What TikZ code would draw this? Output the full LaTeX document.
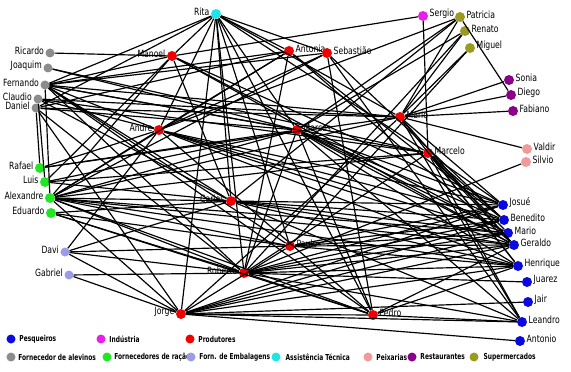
\documentclass[tikz,border=0pt]{standalone}
\usepackage{fontspec}
\usepackage{tikz}
\usetikzlibrary{positioning}
\newfontfamily\lblfont{DejaVu Sans Condensed}[FakeStretch=0.86]
\newfontfamily\legfont{DejaVu Sans Condensed}[FakeStretch=0.8]
\definecolor{prodred}{HTML}{F00000}
\definecolor{pesqblue}{HTML}{0A0AE0}
\definecolor{indmag}{HTML}{E620E6}
\definecolor{alevgray}{HTML}{8C8C8C}
\definecolor{racaogreen}{HTML}{22E622}
\definecolor{emblav}{HTML}{9C9CE6}
\definecolor{teccyan}{HTML}{1EE6E6}
\definecolor{peixpink}{HTML}{F09A9A}
\definecolor{restpurple}{HTML}{8A008A}
\definecolor{superolive}{HTML}{9A9A1E}
\tikzset{
    dotnode/.style = {circle, inner sep=0pt, minimum size=0.3cm, draw=none},
    prod_node/.style = {dotnode, fill=prodred},
    pesq_node/.style = {dotnode, fill=pesqblue},
    ind_node/.style = {dotnode, fill=indmag},
    alev_node/.style = {dotnode, fill=alevgray, minimum size=0.27cm},
    racao_node/.style = {dotnode, fill=racaogreen},
    emb_node/.style = {dotnode, fill=emblav, minimum size=0.27cm},
    tec_node/.style = {dotnode, fill=teccyan},
    peix_node/.style = {dotnode, fill=peixpink},
    rest_node/.style = {dotnode, fill=restpurple},
    super_node/.style = {dotnode, fill=superolive},
    lbl/.style = {font=\lblfont\fontsize{8.5}{9}\selectfont, inner sep=1pt, yshift=2pt},
    edge/.style = {line width=1pt, black},
    legtext/.style = {font=\legfont\bfseries\fontsize{7}{7}\selectfont, inner sep=0pt}
}

\begin{document}
\begin{tikzpicture}
            [x=0.03cm, y=-0.03cm, label distance=0pt]

            \useasboundingbox (0,0) rectangle (571,372);

            % producers
            \node [prod_node, label={[lbl]left:Manoel}] (manoel) at (172,56) {};
            \node [prod_node, label={[lbl]right:Antonia}] (antonia) at (289,51) {};
            \node [prod_node, label={[lbl]right:Sebastião}] (sebastiao) at (327,53) {};
            \node [prod_node, label={[lbl]left:Andre}] (andre) at (159,130) {};
            \node [prod_node, label={[lbl]right:Marcos}] (marcos) at (297,130) {};
            \node [prod_node, label={[lbl]right:Mario}] (mariop) at (400,117) {};
            \node [prod_node, label={[lbl]right:Marcelo}] (marcelo) at (428,153) {};
            \node [prod_node, label={[lbl]left:Carlos}] (carlos) at (231,201) {};
            \node [prod_node, label={[lbl]right:Paulo}] (paulo) at (290,246) {};
            \node [prod_node, label={[lbl]left:Roberto}] (roberto) at (244,273) {};
            \node [prod_node, label={[lbl]left:Jorge}] (jorge) at (181,314) {};
            \node [prod_node, label={[lbl]right:Pedro}] (pedro) at (373,315) {};

            % other actors
            \node [tec_node, label={[lbl]left:Rita}] (rita) at (216,14) {};
            \node [ind_node, label={[lbl]right:Sergio}] (sergio) at (423,16) {};
            \node [super_node, label={[lbl]right:Patricia}] (patricia) at (460,17) {};
            \node [super_node, label={[lbl]right:Renato}] (renato) at (465,31) {};
            \node [super_node, label={[lbl]right:Miguel}] (miguel) at (470,48) {};
            \node [rest_node, label={[lbl]right:Sonia}] (sonia) at (509,80) {};
            \node [rest_node, label={[lbl]right:Diego}] (diego) at (511,95) {};
            \node [rest_node, label={[lbl]right:Fabiano}] (fabiano) at (513,111) {};
            \node [peix_node, label={[lbl]right:Valdir}] (valdir) at (527,149) {};
            \node [peix_node, label={[lbl]right:Silvio}] (silvio) at (526,162) {};

            \node [pesq_node, label={[lbl]right:Josué}] (josue) at (503,205) {};
            \node [pesq_node, label={[lbl]right:Benedito}] (benedito) at (504,220) {};
            \node [pesq_node, label={[lbl]right:Mario}] (mariob) at (508,233) {};
            \node [pesq_node, label={[lbl]right:Geraldo}] (geraldo) at (514,245) {};
            \node [pesq_node, label={[lbl]right:Henrique}] (henrique) at (518,266) {};
            \node [pesq_node, label={[lbl]right:Juarez}] (juarez) at (527,282) {};
            \node [pesq_node, label={[lbl]right:Jair}] (jair) at (528,302) {};
            \node [pesq_node, label={[lbl]right:Leandro}] (leandro) at (522,322) {};
            \node [pesq_node, label={[lbl]right:Antonio}] (antonio) at (520,341) {};

            \node [alev_node, label={[lbl]left:Ricardo}] (ricardo) at (50,53) {};
            \node [alev_node, label={[lbl]left:Joaquim}] (joaquim) at (48,68) {};
            \node [alev_node, label={[lbl]left:Fernando}] (fernando) at (45,85) {};
            \node [alev_node, label={[lbl]left:Claudio}] (claudio) at (38,99) {};
            \node [alev_node, label={[lbl]left:Daniel}] (daniel) at (36,108) {};

            \node [racao_node, label={[lbl]left:Rafael}] (rafael) at (40,168) {};
            \node [racao_node, label={[lbl]left:Luis}] (luis) at (45,182) {};
            \node [racao_node, label={[lbl]left:Alexandre}] (alexandre) at (50,198) {};
            \node [racao_node, label={[lbl]left:Eduardo}] (eduardo) at (51,213) {};

            \node [emb_node, label={[lbl]left:Davi}] (davi) at (65,252) {};
            \node [emb_node, label={[lbl]left:Gabriel}] (gabriel) at (69,275) {};

            % ties
            \foreach \s/\tl in {
                rita/{manoel,antonia,sebastiao,andre,marcos,mariop,marcelo,carlos,paulo,roberto,jorge,pedro,fernando,daniel},
                sergio/{manoel,marcelo},
                patricia/{mariop,andre,marcos,diego,carlos},
                renato/{mariop,marcos,roberto},
                miguel/{mariop,paulo},
                sonia/{mariop}, diego/{mariop}, fabiano/{mariop}, valdir/{mariop},
                silvio/{roberto},
                ricardo/{manoel},
                joaquim/{marcos,marcelo},
                fernando/{manoel,antonia,sebastiao,andre,marcos,mariop,marcelo,carlos,paulo,roberto,pedro,alexandre},
                claudio/{andre,mariop,marcelo,carlos,luis},
                daniel/{antonia,marcos,mariop,roberto,rafael,jorge},
                rafael/{andre,marcos,mariop},
                luis/{manoel,marcos,marcelo,carlos},
                alexandre/{manoel,antonia,sebastiao,andre,marcos,mariop,marcelo,carlos,paulo,roberto,pedro,jorge,geraldo,henrique,mariob},
                eduardo/{carlos,roberto,pedro,paulo},
                davi/{andre,carlos,paulo,roberto,jorge},
                gabriel/{roberto,jorge},
                josue/{manoel,andre,marcos,mariop,marcelo,carlos,jorge,paulo,roberto},
                benedito/{antonia,sebastiao,andre,marcos,marcelo,carlos,roberto,jorge,paulo},
                mariob/{manoel,marcos,marcelo,paulo,roberto,jorge,andre,carlos},
                geraldo/{manoel,antonia,andre,marcos,mariop,marcelo,carlos,paulo,roberto,jorge,pedro},
                henrique/{andre,marcos,mariop,marcelo,carlos,paulo,roberto,jorge,pedro},
                juarez/{roberto}, jair/{jorge}, antonio/{jorge},
                leandro/{marcos,marcelo,carlos,jorge,pedro,sebastiao,roberto,mariop},
                antonia/{andre,roberto}, sebastiao/{andre,pedro}, manoel/{carlos},
                marcos/{roberto,pedro}, andre/{pedro}, mariop/{jorge},
                marcelo/{roberto}, paulo/{jorge}, jorge/{pedro}, roberto/{pedro}}
                \foreach \t in \tl
                    \draw [edge] (\s) -- (\t);

            % legend
            \node [pesq_node, minimum size=0.27cm] (lpesq) at (11,339) {};
            \node [legtext, right=3pt of lpesq] (tpesq) {Pesqueiros};
            \node [ind_node, minimum size=0.27cm] (lind) at (101,339) {};
            \node [legtext, right=3pt of lind] (tind) {Indústria};
            \node [prod_node, minimum size=0.27cm] (lprod) at (190,339) {};
            \node [legtext, right=3pt of lprod] (tprod) {Produtores};
            \node [alev_node] (lalev) at (11,357) {};
            \node [legtext, right=2pt of lalev] (talev) {Fornecedor de alevinos};
            \node [racao_node, minimum size=0.27cm] (lracao) at (107,357) {};
            \node [legtext, right=2pt of lracao] (tracao) {Fornecedores de ração};
            \node [emb_node] (lemb) at (191,357) {};
            \node [legtext, right=3pt of lemb] (temb) {Forn. de Embalagens};
            \node [tec_node, minimum size=0.27cm] (ltec) at (276,357) {};
            \node [legtext, right=4pt of ltec] (ttec) {Assistência Técnica};
            \node [peix_node, minimum size=0.27cm] (lpeix) at (368,357) {};
            \node [legtext, right=3pt of lpeix] (tpeix) {Peixarias};
            \node [rest_node, minimum size=0.27cm] (lrest) at (412,357) {};
            \node [legtext, right=3pt of lrest] (trest) {Restaurantes};
            \node [super_node, minimum size=0.27cm] (lsuper) at (474,357) {};
            \node [legtext, right=4pt of lsuper] (tsuper) {Supermercados};
        \end{tikzpicture}
\end{document}
